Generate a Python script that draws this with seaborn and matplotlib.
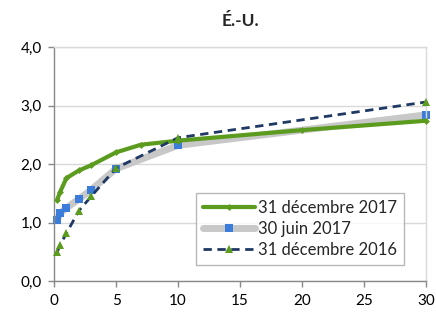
import matplotlib
matplotlib.use("Agg")
import matplotlib.pyplot as plt
import seaborn as sns
import pandas as pd

sns.set_theme(style="white")
plt.rcParams['font.family'] = ['Lato', 'DejaVu Sans']

mat_dec17 = [0.25, 0.5, 1, 2, 3, 5, 7, 10, 20, 30]
val_dec17 = [1.39, 1.53, 1.76, 1.89, 1.98, 2.20, 2.33, 2.40, 2.58, 2.74]
mat_jun17 = [0.25, 0.5, 1, 2, 3, 5, 10, 30]
val_jun17 = [1.05, 1.16, 1.25, 1.40, 1.56, 1.92, 2.32, 2.84]
mat_dec16 = [0.25, 0.5, 1, 2, 3, 5, 10, 30]
val_dec16 = [0.50, 0.62, 0.82, 1.20, 1.45, 1.93, 2.45, 3.06]
labels = ["31 décembre 2017", "30 juin 2017", "31 décembre 2016"]
xticks = [0, 5, 10, 15, 20, 25, 30]
yticks = [0.0, 1.0, 2.0, 3.0, 4.0]

fig = plt.figure(figsize=(4.36, 3.22), dpi=100)
ax = fig.add_axes([0.124, 0.127, 0.853, 0.727])

sns.lineplot(x=mat_dec17, y=val_dec17, ax=ax, color="#5B9B1E", linewidth=3,
             marker="D", markersize=3.5, markeredgewidth=0, label=labels[0],
             clip_on=False, zorder=3)
sns.lineplot(x=mat_jun17, y=val_jun17, ax=ax, color="#C8C8C8", linewidth=5,
             marker="s", markersize=6, markerfacecolor="#3C7DDB",
             markeredgewidth=0, label=labels[1], clip_on=False, zorder=2)
sns.lineplot(x=mat_dec16, y=val_dec16, ax=ax, color="#1F3864", linewidth=2,
             linestyle=(0, (3, 2)), marker="^", markersize=6,
             markerfacecolor="#5B9B1E", markeredgewidth=0, label=labels[2],
             clip_on=False, zorder=4)

ax.set_xlim(0, 30)
ax.set_ylim(0, 4)
ax.set_xticks(xticks)
ax.set_yticks(yticks)
ax.set_yticklabels([f"{v:.1f}".replace(".", ",") for v in yticks])
ax.tick_params(axis="both", labelsize=11, colors="#000000", length=4,
               width=1, direction="out", left=True, bottom=True, pad=5)
ax.tick_params(axis="both", color="#888888")
ax.yaxis.grid(True, color="#D9D9D9", linewidth=1)
ax.xaxis.grid(False)
for side in ["left", "bottom"]:
    ax.spines[side].set_color("#888888")
    ax.spines[side].set_linewidth(1)
for side in ["top", "right"]:
    ax.spines[side].set_color("#D9D9D9")
    ax.spines[side].set_linewidth(1)
ax.set_xlabel("")
ax.set_ylabel("")
ax.set_title("É.-U.", fontsize=12.5, fontweight="bold", pad=15)

leg = ax.legend(loc="lower right", bbox_to_anchor=(0.962, 0.035), fontsize=12,
                frameon=True, fancybox=False, handlelength=3.1,
                borderpad=0.4, labelspacing=0.3, handletextpad=0.2)
leg.get_frame().set_edgecolor("#A6A6A6")
leg.get_frame().set_linewidth(1)

fig.savefig("out.png", dpi=100)
